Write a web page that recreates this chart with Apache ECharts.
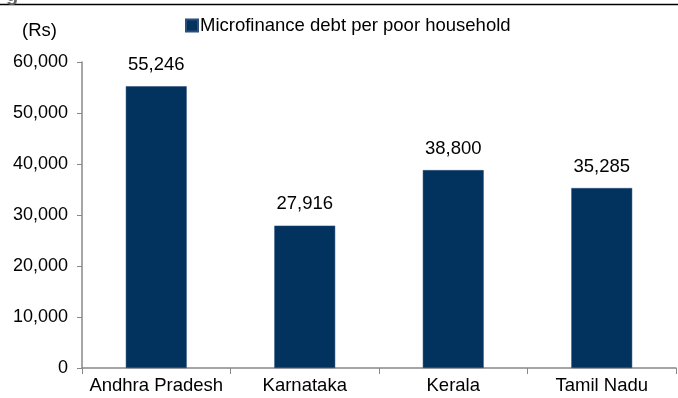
<!DOCTYPE html>
<html>
<head>
<meta charset="utf-8">
<script src="https://cdn.jsdelivr.net/npm/echarts@6/dist/echarts.min.js"></script>
<style>
  html, body { margin: 0; padding: 0; background: #fff; }
  #chart { width: 678px; height: 398px; }
</style>
</head>
<body>
<div id="chart"></div>
<script>
// States and microfinance debt per poor household (Rs)
const states = ['Andhra Pradesh', 'Karnataka', 'Kerala', 'Tamil Nadu'];
const debtPerHousehold = [55246, 27916, 38800, 35285];
const seriesName = 'Microfinance debt per poor household';

const FONT = 'Liberation Sans, Arial, sans-serif';
const fmt = v => v.toLocaleString('en-US');

const chart = echarts.init(document.getElementById('chart'));
chart.setOption({
  animation: false,
  textStyle: { fontFamily: FONT },
  grid: { left: 82, right: 2, top: 62, bottom: 30, containLabel: false },
  legend: {
    data: [seriesName],
    left: 180,
    top: 11,
    icon: 'rect',
    itemWidth: 12,
    itemHeight: 12,
    itemGap: 4,
    textStyle: { fontSize: 18.5, color: '#000', fontFamily: FONT, padding: [0, 0, 0, -3] }
  },
  graphic: [
    { type: 'line', shape: { x1: 0, y1: 4.5, x2: 678, y2: 4.5 }, style: { stroke: '#000', lineWidth: 1.5 } },
    { type: 'text', left: 6, top: -15, style: { text: 'g', font: 'bold 20px ' + FONT, fill: '#666' } },
    { type: 'text', left: 22, top: 21, style: { text: '(Rs)', font: '18.5px ' + FONT, fill: '#000' } }
  ],
  xAxis: {
    type: 'category',
    data: states,
    axisLine: { lineStyle: { color: '#888', width: 1.5 } },
    axisTick: { show: true, interval: 0, inside: false, length: 6, lineStyle: { color: '#888' } },
    axisLabel: { color: '#000', fontSize: 18.5, margin: 8, interval: 0, hideOverlap: false }
  },
  yAxis: {
    type: 'value',
    min: 0,
    max: 60000,
    interval: 10000,
    splitLine: { show: false },
    axisLine: { show: true, lineStyle: { color: '#888', width: 1.5 } },
    axisTick: { show: true, length: 5, lineStyle: { color: '#888' } },
    axisLabel: { color: '#000', fontSize: 18, margin: 14, formatter: v => fmt(v) }
  },
  series: [{
    name: seriesName,
    type: 'bar',
    data: debtPerHousehold,
    barWidth: '41%',
    itemStyle: { color: '#02335F', borderColor: '#2a4f78', borderWidth: 0.5 },
    label: {
      show: true,
      position: 'top',
      distance: 12,
      color: '#000',
      fontSize: 18.5,
      formatter: p => fmt(p.value)
    }
  }]
});
</script>
</body>
</html>
